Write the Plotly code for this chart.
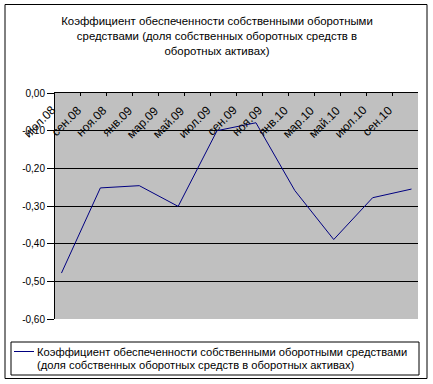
import plotly.graph_objects as go

# ---- data ----
months = ["июл.08", "авг.08", "сен.08", "окт.08", "ноя.08", "дек.08",
          "янв.09", "фев.09", "мар.09", "апр.09", "май.09", "июн.09",
          "июл.09", "авг.09", "сен.09", "окт.09", "ноя.09", "дек.09",
          "янв.10", "фев.10", "мар.10", "апр.10", "май.10", "июн.10",
          "июл.10", "авг.10", "сен.10", "окт.10"]
point_months = ["июл.08", "окт.08", "янв.09", "апр.09", "июл.09",
                "окт.09", "янв.10", "апр.10", "июл.10", "окт.10"]
values = [-0.478, -0.252, -0.246, -0.301, -0.100,
          -0.079, -0.259, -0.389, -0.278, -0.255]
tick_labels = ["июл.08", "сен.08", "ноя.08", "янв.09", "мар.09", "май.09", "июл.09",
               "сен.09", "ноя.09", "янв.10", "мар.10", "май.10", "июл.10", "сен.10"]
y_ticks = [0.0, -0.1, -0.2, -0.3, -0.4, -0.5, -0.6]
y_tick_text = ["0,00", "-0,10", "-0,20", "-0,30", "-0,40", "-0,50", "-0,60"]
legend_lines = ["Коэффициент обеспеченности собственными оборотными средствами",
                "(доля собственных оборотных средств в оборотных активах)"]
title_text = ("Коэффициент обеспеченности собственными оборотными<br>"
              "средствами (доля собственных оборотных средств в<br>"
              "оборотных активах)")

# ---- layout geometry (pixels) ----
W, H = 433, 384
L, R, T, B = 55, 418, 93, 319
FONT = "Liberation Sans, Arial, sans-serif"


def px(x):
    return (x - L) / (R - L)


def py(y):
    return (B - y) / (B - T)


x_idx = [months.index(m) for m in point_months]

fig = go.Figure()
fig.add_trace(go.Scatter(
    x=x_idx, y=values, mode="lines",
    line=dict(color="#000080", width=1),
    name=" ".join(legend_lines), showlegend=False,
))

annotations = []
for j, lab in enumerate(tick_labels):
    idx = months.index(lab)
    annotations.append(dict(
        x=idx - 0.05, y=-0.019, xref="x", yref="y",
        text=lab, showarrow=False, textangle=-45,
        xanchor="right", yanchor="top",
        font=dict(family=FONT, size=12, color="black"),
    ))

# legend drawn as a box with a sample line and text
for k, (line_text, ypix) in enumerate(zip(legend_lines, [352, 364.5])):
    annotations.append(dict(
        x=px(35), y=py(ypix), xref="paper", yref="paper",
        text=line_text, showarrow=False, align="left",
        xanchor="left", yanchor="middle",
        font=dict(family=FONT, size=11.2, color="black"),
    ))

shapes = [
    dict(type="rect", xref="paper", yref="paper",
         x0=px(5), x1=px(427), y0=py(4.5), y1=py(378.5),
         line=dict(color="black", width=1), layer="below"),
    dict(type="rect", xref="paper", yref="paper",
         x0=px(11), x1=px(419), y0=py(342), y1=py(375),
         line=dict(color="black", width=1)),
    dict(type="line", xref="paper", yref="paper",
         x0=px(14), x1=px(34), y0=py(351.5), y1=py(351.5),
         line=dict(color="#000080", width=1)),
]

fig.update_layout(
    width=W, height=H,
    margin=dict(l=L, r=W - R, t=T, b=H - B),
    paper_bgcolor="white", plot_bgcolor="#C0C0C0",
    font=dict(family=FONT, size=10, color="black"),
    title=dict(text=title_text, x=217 / W, xanchor="center",
               y=1 - 25 / H, yanchor="top", yref="container",
               font=dict(family=FONT, size=11.4, color="black")),
    xaxis=dict(range=[-0.5, len(months) - 0.5], side="top",
               tickvals=[2 * j - 0.5 for j in range(len(tick_labels) + 1)],
               ticks="inside", ticklen=3, tickcolor="black",
               showticklabels=False, showgrid=False, zeroline=False,
               showline=True, linecolor="black", linewidth=1),
    yaxis=dict(range=[-0.6, 0.0], tickvals=y_ticks, ticktext=y_tick_text,
               ticks="outside", ticklen=7, tickcolor="black",
               showgrid=True, gridcolor="black", gridwidth=1,
               zeroline=False, showline=True, linecolor="black", linewidth=1,
               tickfont=dict(family=FONT, size=10, color="black")),
    annotations=annotations, shapes=shapes,
    showlegend=False,
)

fig.write_html("out.html", config={"displayModeBar": False},
               post_script="document.body.style.margin='0';")
